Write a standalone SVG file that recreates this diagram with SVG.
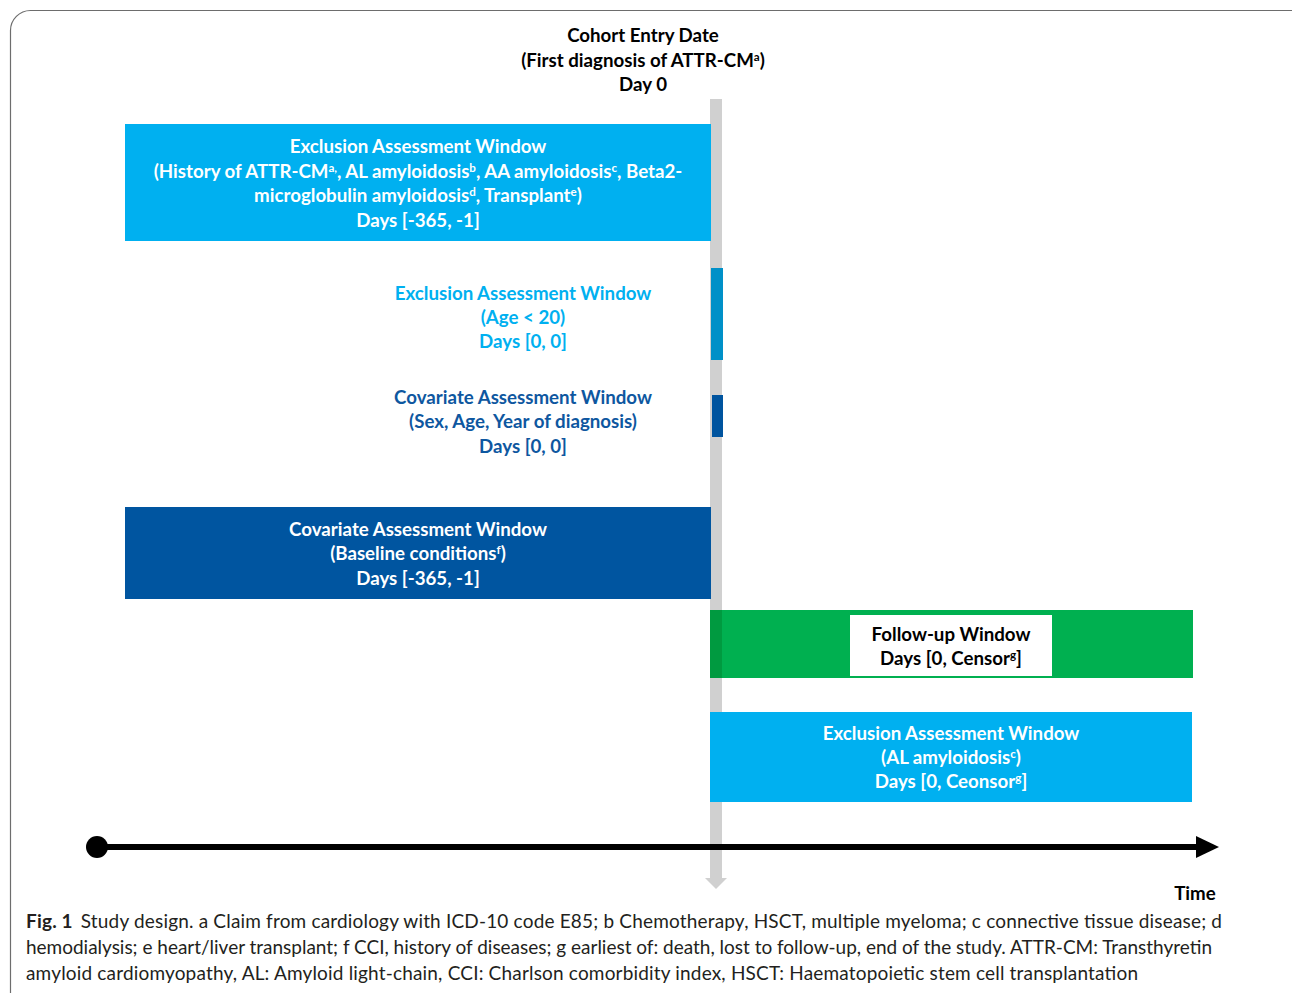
<svg xmlns="http://www.w3.org/2000/svg" width="1292" height="993" viewBox="0 0 1292 993">
  <style>
    .t { font-family: Lato, "Open Sans", "Liberation Sans", sans-serif; font-weight: bold; font-size: 18.7px; text-anchor: middle; }
    .w { fill: #ffffff; }
    .k { fill: #000000; }
    .cy { fill: #00b0f0; }
    .db { fill: #0e57a0; }
    .cap { font-family: Lato, "Open Sans", "Liberation Sans", sans-serif; font-size: 19px; fill: #231f20; }
    .sup { font-size: 62%; baseline-shift: super; }
  </style>

  <rect width="1292" height="993" fill="#ffffff"/>
  <!-- figure frame -->
  <rect x="10.5" y="10.5" width="1310" height="1010" rx="20" fill="none" stroke="#6d6d6d" stroke-width="1.2"/>

  <!-- day-0 marker: grey bar with downward arrow -->
  <g id="day0-bar">
    <rect x="710" y="99" width="12" height="779" fill="#d0d0d0"/>
    <path d="M705,878 L727,878 L716,889 z" fill="#d0d0d0"/>
  </g>

  <g id="cohort-entry">
    <text class="t k" x="643" y="42">Cohort Entry Date</text>
    <text class="t k" x="643" y="67">(First diagnosis of ATTR-CM<tspan class="sup">a</tspan>)</text>
    <text class="t k" x="643" y="91">Day 0</text>
  </g>

  <g id="exclusion-history">
    <rect x="125" y="124" width="586" height="117" fill="#00b0f0"/>
    <text class="t w" x="418" y="153">Exclusion Assessment Window</text>
    <text class="t w" x="418" y="178">(History of ATTR-CM<tspan class="sup">a,</tspan>, AL amyloidosis<tspan class="sup">b</tspan>, AA amyloidosis<tspan class="sup">c</tspan>, Beta2-</text>
    <text class="t w" x="418" y="202">microglobulin amyloidosis<tspan class="sup">d</tspan>, Transplant<tspan class="sup">e</tspan>)</text>
    <text class="t w" x="418" y="227">Days [-365, -1]</text>
  </g>

  <g id="exclusion-age">
    <rect x="711" y="268" width="12" height="92" fill="#0090c8"/>
    <text class="t cy" x="523" y="300">Exclusion Assessment Window</text>
    <text class="t cy" x="523" y="324">(Age &lt; 20)</text>
    <text class="t cy" x="523" y="348">Days [0, 0]</text>
  </g>

  <g id="covariate-demographics">
    <rect x="712" y="395" width="11" height="42" fill="#00549f"/>
    <text class="t db" x="523" y="404">Covariate Assessment Window</text>
    <text class="t db" x="523" y="428">(Sex, Age, Year of diagnosis)</text>
    <text class="t db" x="523" y="453">Days [0, 0]</text>
  </g>

  <g id="covariate-baseline">
    <rect x="125" y="507" width="586" height="92" fill="#0055a0"/>
    <text class="t w" x="418" y="536">Covariate Assessment Window</text>
    <text class="t w" x="418" y="560">(Baseline conditions<tspan class="sup">f</tspan>)</text>
    <text class="t w" x="418" y="585">Days [-365, -1]</text>
  </g>

  <g id="follow-up">
    <rect x="710" y="610" width="483" height="68" fill="#00b050"/>
    <rect x="710" y="610" width="12" height="68" fill="#009a40"/>
    <rect x="850" y="615" width="202" height="61" fill="#ffffff"/>
    <text class="t k" x="951" y="641">Follow-up Window</text>
    <text class="t k" x="951" y="665">Days [0, Censor<tspan class="sup">g</tspan>]</text>
  </g>

  <g id="exclusion-al">
    <rect x="710" y="712" width="482" height="90" fill="#00b0f0"/>
    <text class="t w" x="951" y="740">Exclusion Assessment Window</text>
    <text class="t w" x="951" y="764">(AL amyloidosis<tspan class="sup">c</tspan>)</text>
    <text class="t w" x="951" y="788">Days [0, Ceonsor<tspan class="sup">g</tspan>]</text>
  </g>

  <!-- time axis -->
  <g id="connectors">
    <line x1="97" y1="847" x2="1198" y2="847" stroke="#000" stroke-width="6"/>
    <circle cx="97" cy="847" r="11" fill="#000"/>
    <path d="M1196,836 L1219,847 L1196,858 z" fill="#000"/>
  </g>
  <g id="time-label">
    <text class="t k" x="1195" y="900">Time</text>
  </g>

  <g id="caption">
    <text class="cap" x="26" y="928" textLength="1196" lengthAdjust="spacing"><tspan font-weight="bold">Fig. 1</tspan><tspan dx="8">Study design. a Claim from cardiology with ICD-10 code E85; b Chemotherapy, HSCT, multiple myeloma; c connective tissue disease; d</tspan></text>
    <text class="cap" x="26" y="954" textLength="1186" lengthAdjust="spacing">hemodialysis; e heart/liver transplant; f CCI, history of diseases; g earliest of: death, lost to follow-up, end of the study. ATTR-CM: Transthyretin</text>
    <text class="cap" x="26" y="980" textLength="1112" lengthAdjust="spacing">amyloid cardiomyopathy, AL: Amyloid light-chain, CCI: Charlson comorbidity index, HSCT: Haematopoietic stem cell transplantation</text>
  </g>
</svg>
